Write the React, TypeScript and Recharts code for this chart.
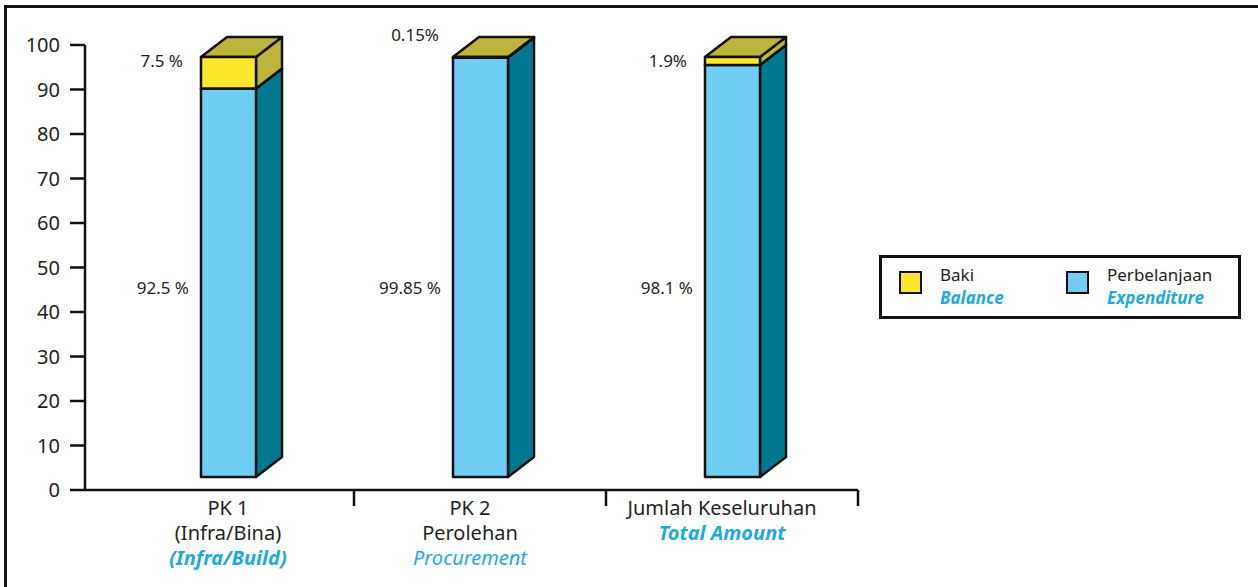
import React from 'react';
import { ComposedChart, Bar, XAxis, YAxis, LabelList } from 'recharts';

// ---------- data ----------
const categories = ['PK 1', 'PK 2', 'Jumlah Keseluruhan'];
const categoryMalaySecond = ['(Infra/Bina)', 'Perolehan', ''];
const categoryEnglish = ['(Infra/Build)', 'Procurement', 'Total Amount'];
const categoryEnglishBold = [true, false, true];
const expenditure = [92.5, 99.85, 98.1];
const balance = [7.5, 0.15, 1.9];
const expenditureLabels = ['92.5 %', '99.85 %', '98.1 %'];
const balanceLabels = ['7.5 %', '0.15%', '1.9%'];
const yTicks = [0, 10, 20, 30, 40, 50, 60, 70, 80, 90, 100];
const legendItems = [
  { ms: 'Baki', en: 'Balance', color: '#FCE72C' },
  { ms: 'Perbelanjaan', en: 'Expenditure', color: '#70CDF3' },
];

const data = categories.map((name, i) => ({
  name,
  index: i,
  expenditure: expenditure[i],
  balance: balance[i],
  expLabel: expenditureLabels[i],
  balLabel: balanceLabels[i],
}));

// ---------- layout / style ----------
const W = 1258;
const H = 587;
const PLOT_TOP = 45;
const PLOT_BOTTOM = 490;
const PLOT_LEFT = 85;
const PLOT_RIGHT = 858;
const X_PAD_LEFT = 17;
const BAND = (PLOT_RIGHT - PLOT_LEFT - X_PAD_LEFT) / categories.length;
const DX = 26;
const DY = 20;
// 3D bars sit a little above the axis floor and use a slightly compressed scale
const BAR_FLOOR_OFFSET = 13; // px
const BAR_FULL_PX = 420; // px for 100 units
const PX_PER_UNIT = BAR_FULL_PX / 100;
const BAR_DOMAIN_MIN = -BAR_FLOOR_OFFSET / PX_PER_UNIT;
const BAR_DOMAIN_MAX = BAR_DOMAIN_MIN + (PLOT_BOTTOM - PLOT_TOP) / PX_PER_UNIT;

const FONT = "'Noto Sans', sans-serif";
const INK = '#231F20';
const CYAN = '#1FA9E1';
const STROKE = '#111';

const YELLOW = '#FCE72C';
const OLIVE = '#BDB53B';
const BLUE = '#70CDF3';
const TEAL = '#00788F';

const makePrism = (front: string, side: string, top: string) => (props: any) => {
  const { x, y, width, height } = props;
  if (x == null || y == null || !width || height == null) return <g />;
  const x2 = x + width;
  const y2 = y + height;
  return (
    <g stroke={STROKE} strokeWidth={2.5} strokeLinejoin="round">
      <polygon
        points={`${x2},${y} ${x2 + DX},${y - DY} ${x2 + DX},${y2 - DY} ${x2},${y2}`}
        fill={side}
      />
      <polygon
        points={`${x},${y} ${x + DX},${y - DY} ${x2 + DX},${y - DY} ${x2},${y}`}
        fill={top}
      />
      <rect x={x} y={y} width={width} height={height} fill={front} />
    </g>
  );
};

const ExpShape = makePrism(BLUE, TEAL, BLUE);
const BalShape = makePrism(YELLOW, OLIVE, OLIVE);

const ExpLabel = (props: any) => {
  const { x, y, height, value } = props;
  return (
    <text
      x={x - 12}
      y={y + height - 190}
      textAnchor="end"
      dominantBaseline="central"
      fontFamily={FONT}
      fontSize={17}
      fill={INK}
    >
      {value}
    </text>
  );
};

const BalLabel = (props: any) => {
  const { x, y, height, value } = props;
  const thin = Math.abs(height) < 4;
  return (
    <text
      x={thin ? x - 14 : x - 18}
      y={thin ? y - 23 : y + 3}
      textAnchor="end"
      dominantBaseline="central"
      fontFamily={FONT}
      fontSize={17}
      fill={INK}
    >
      {value}
    </text>
  );
};

const CategoryTick = (props: any) => {
  const { x, y, payload } = props;
  const i = payload.index ?? categories.indexOf(payload.value);
  const half = BAND / 2;
  const lines: { text: string; en: boolean }[] = [{ text: categories[i], en: false }];
  if (categoryMalaySecond[i]) lines.push({ text: categoryMalaySecond[i], en: false });
  lines.push({ text: categoryEnglish[i], en: true });
  return (
    <g>
      <line x1={x + half} x2={x + half} y1={y} y2={y + 16} stroke={STROKE} strokeWidth={2.5} />
      {lines.map((l, k) => (
        <text
          key={k}
          x={x - (i > 0 ? 10 : 0)}
          y={y + 25 * (k + 1)}
          textAnchor="middle"
          fontFamily={FONT}
          fontSize={20}
          fill={l.en ? CYAN : INK}
          fontStyle={l.en ? 'italic' : 'normal'}
          fontWeight={l.en && categoryEnglishBold[i] ? 700 : 400}
        >
          {l.text}
        </text>
      ))}
    </g>
  );
};

const Legend3D = () => (
  <div
    style={{
      position: 'absolute',
      left: 879,
      top: 255,
      width: 356,
      height: 58,
      border: `3px solid ${STROKE}`,
      background: '#fff',
      fontFamily: FONT,
    }}
  >
    {legendItems.map((it, i) => (
      <div key={it.ms} style={{ position: 'absolute', left: 17 + i * 167, top: 0 }}>
        <div
          style={{
            position: 'absolute',
            left: 0,
            top: 13,
            width: 19,
            height: 19,
            background: it.color,
            border: `2.5px solid ${STROKE}`,
          }}
        />
        <div
          style={{
            position: 'absolute',
            left: 41,
            top: 5,
            fontSize: 17,
            lineHeight: '23px',
            color: INK,
            whiteSpace: 'nowrap',
          }}
        >
          {it.ms}
        </div>
        <div
          style={{
            position: 'absolute',
            left: 41,
            top: 28,
            fontSize: 17,
            lineHeight: '23px',
            color: CYAN,
            fontStyle: 'italic',
            fontWeight: 700,
            whiteSpace: 'nowrap',
          }}
        >
          {it.en}
        </div>
      </div>
    ))}
  </div>
);

export default function App() {
  return (
    <div style={{ position: 'absolute', left: 0, top: 0, width: W, height: H, background: '#fff' }}>
      <div
        style={{
          position: 'absolute',
          left: 4,
          top: 5,
          right: 0,
          bottom: 0,
          borderTop: `3px solid ${STROKE}`,
          borderLeft: `3px solid ${STROKE}`,
        }}
      />
      <div style={{ position: 'absolute', left: 0, top: 0 }}>
        <ComposedChart
          width={W}
          height={H}
          data={data}
          margin={{ top: PLOT_TOP, right: W - PLOT_RIGHT, bottom: 0, left: 0 }}
        >
          <XAxis
            dataKey="name"
            interval={0}
            padding={{ left: X_PAD_LEFT, right: 0 }}
            height={H - PLOT_BOTTOM}
            axisLine={{ stroke: STROKE, strokeWidth: 2.5 }}
            tickLine={false}
            tickSize={0}
            tickMargin={0}
            tick={<CategoryTick />}
          />
          <YAxis
            yAxisId="axis"
            width={PLOT_LEFT}
            domain={[0, 100]}
            allowDataOverflow
            ticks={yTicks}
            interval={0}
            type="number"
            axisLine={{ stroke: STROKE, strokeWidth: 2.5 }}
            tickLine={{ stroke: STROKE, strokeWidth: 2.5 }}
            tickSize={15}
            tickMargin={10}
            tick={{ fontFamily: FONT, fontSize: 20, fill: INK }}
          />
          <YAxis
            yAxisId="bar"
            hide
            type="number"
            domain={[BAR_DOMAIN_MIN, BAR_DOMAIN_MAX]}
          />
          <Bar
            yAxisId="bar"
            dataKey="expenditure"
            stackId="s"
            barSize={55}
            shape={ExpShape}
            isAnimationActive={false}
          >
            <LabelList dataKey="expLabel" content={ExpLabel} />
          </Bar>
          <Bar
            yAxisId="bar"
            dataKey="balance"
            stackId="s"
            barSize={55}
            shape={BalShape}
            isAnimationActive={false}
          >
            <LabelList dataKey="balLabel" content={BalLabel} />
          </Bar>
        </ComposedChart>
      </div>
      <Legend3D />
    </div>
  );
}
